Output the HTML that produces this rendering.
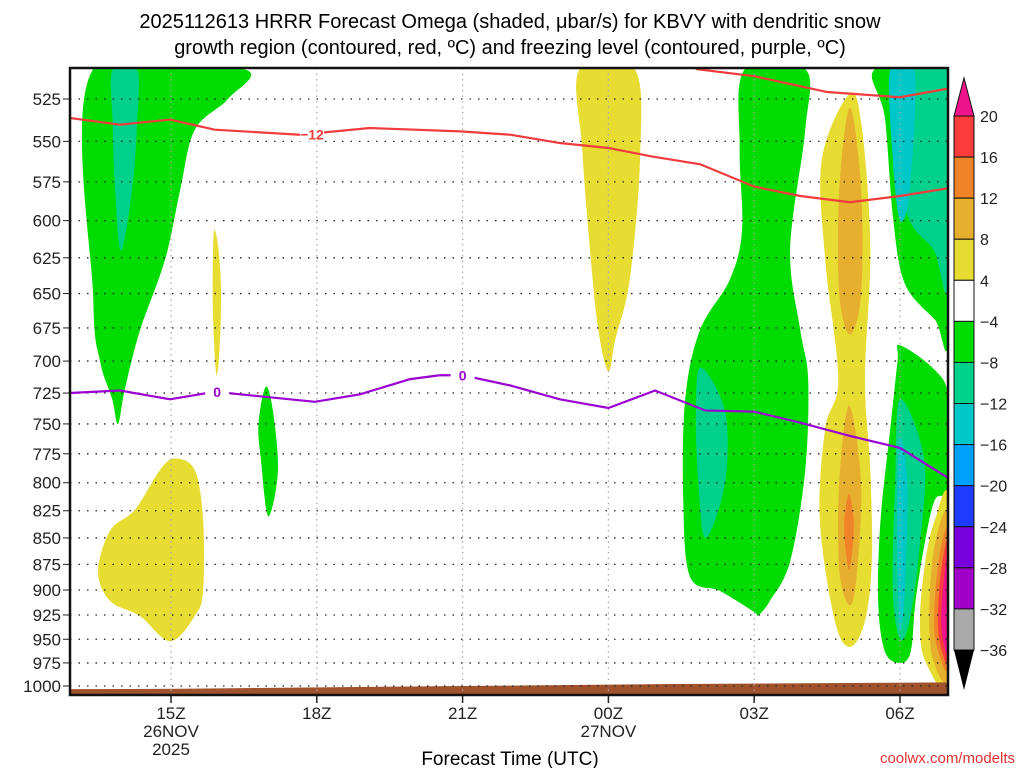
<!DOCTYPE html>
<html><head><meta charset="utf-8"><style>
body{margin:0;background:#fff;}
svg{display:block;font-family:"Liberation Sans","DejaVu Sans",sans-serif;}
</style></head><body>
<svg id="c" width="1024" height="768" viewBox="0 0 1024 768">
<defs><clipPath id="clip"><rect x="70" y="68" width="878" height="627"/></clipPath></defs>
<g id="fills"></g>
<g id="grid"></g>
<g id="lines"></g>
<g id="axes"></g>
<g id="cbar"></g>
<text x="510" y="28" font-size="20" text-anchor="middle">2025112613 HRRR Forecast Omega (shaded, μbar/s) for KBVY with dendritic snow</text>
<text x="510" y="54" font-size="20" text-anchor="middle">growth region (contoured, red, ºC) and freezing level (contoured, purple, ºC)</text>
<text x="510" y="765" font-size="19" text-anchor="middle">Forecast Time (UTC)</text>
<text x="1015" y="763" font-size="15" text-anchor="end" fill="#e03030">coolwx.com/modelts</text>
</svg>
<script>
const pLevels=[525,550,575,600,625,650,675,700,725,750,775,800,825,850,875,900,925,950,975,1000];
const timeHours=[2,5,8,11,14,17];
const timeLabels=["15Z","18Z","21Z","00Z","03Z","06Z"];
const dateLabels=[["26NOV","2025"],[],[],["27NOV"],[],[]];
const cbLabels=[20,16,12,8,4,-4,-8,-12,-16,-20,-24,-28,-32,-36];
const cbColors=["#fa3c3c","#f08228","#e6af2d","#e6dc32","#ffffff","#00dc00","#00d28c","#00c8c8","#00a0ff","#1e3cff","#7800dc","#a000c8","#aaaaaa"];
const G="#00dc00",T="#00d28c",C="#00c8c8",Y="#e6dc32",Gd="#e6af2d",O="#f08228",R="#fa3c3c",M="#f0148c";
const shapes=[
 [G,[[0.4,508],[3.48,508],[3.17,525],[2.49,543],[2.19,580],[1.88,626],[1.36,677],[1.05,722],[0.91,750],[0.79,730],[0.54,700],[0.4,654]]],
 [T,[[0.8,508],[1.3,508],[1.3,540],[1.2,580],[0.97,620],[0.85,580],[0.8,540]]],
 [Y,[[0.5,882],[0.75,843],[1.26,824],[1.77,789],[2.08,779],[2.49,789],[2.66,833],[2.66,901],[2.49,926],[1.98,952],[1.36,926],[0.75,911]]],
 [Y,[[2.88,608],[2.98,620],[3.03,650],[3.0,690],[2.93,710],[2.86,660]]],
 [G,[[3.95,720],[4.1,740],[4.2,790],[4.0,830],[3.85,780],[3.8,750]]],
 [Y,[[10.41,508],[11.54,508],[11.65,561],[11.44,640],[11.14,684],[11.0,708],[10.79,676],[10.62,619],[10.46,554]]],
 [G,[[13.81,508],[15.05,508],[15.05,543],[14.74,619],[14.95,677],[15.11,714],[15.05,789],[14.74,872],[14.32,911],[14.07,926],[14.0,922],[13.3,901],[12.68,887],[12.54,815],[12.58,730],[12.88,677],[13.5,640],[13.75,606],[13.7,554]]],
 [T,[[12.9,705],[13.4,740],[13.4,800],[13.0,850],[12.85,800],[12.8,740]]],
 [Y,[[15.97,522],[16.22,543],[16.39,619],[16.28,714],[16.39,789],[16.42,872],[16.28,931],[15.97,958],[15.66,931],[15.35,833],[15.46,754],[15.73,714],[15.46,626],[15.39,561]]],
 [Gd,[[15.97,530],[16.2,580],[16.2,650],[15.97,680],[15.75,650],[15.75,580]]],
 [Gd,[[15.95,735],[16.2,800],[16.1,890],[15.95,915],[15.75,880],[15.75,800]]],
 [O,[[15.95,810],[16.05,840],[15.95,880],[15.85,840]]],
 [G,[[16.49,508],[18,508],[18,680],[17.72,669],[17.1,643],[16.86,599],[16.69,536]]],
 [T,[[16.9,508],[18,508],[18,645],[17.7,620],[17.2,600],[16.9,560]]],
 [C,[[16.8,508],[17.3,508],[17.2,580],[17.0,600],[16.85,560]]],
 [G,[[17.0,688],[17.72,707],[18,730],[18,803],[17.72,815],[17.52,852],[17.32,911],[17.22,963],[17.0,975],[16.69,963],[16.55,911],[16.6,833],[16.8,754],[16.95,700]]],
 [T,[[17,730],[17.5,780],[17.4,860],[17.2,930],[17.0,950],[16.85,900],[16.9,800]]],
 [C,[[17.0,760],[17.15,800],[17.1,900],[17.0,940],[16.95,880],[16.95,800]]],
 [Y,[[18,815],[17.72,833],[17.52,872],[17.41,931],[17.52,973],[18,993]]],
 [Gd,[[18,830],[17.7,860],[17.6,930],[17.7,975],[18,985]]],
 [O,[[18,845],[17.8,870],[17.7,930],[17.8,965],[18,975]]],
 [R,[[18,855],[17.85,880],[17.78,930],[17.85,960],[18,968]]],
 [M,[[18,865],[17.9,890],[17.85,930],[17.9,955],[18,960]]]
];
const redHours=[-0.1,0.95,1.98,2.9,4.65,6.09,7.95,8.98,10,11,11.86,12.89,14,14.95,15.97,17,18];
const redP=[536,540,537,543,546,542,544,546,551,554,559,564,578,584,588,584,579];
const red2Hours=[12.8,14,15.5,17,18];
const red2P=[508,512,521,524,519];
const purpleHours=[-0.1,0.95,1.98,2.9,4.96,5.89,6.92,7.53,8,8.98,10,11,11.96,12.99,14,14.95,15.97,17,18];
const purpleP=[725,723,730,724,732,726,714,711,711,719,730,737,723,739,740,749,760,770,796];
const groundHours=[-0.1,2.2,4,8,12,15,18];
const groundP=[1003.5,1003,1002,1000,998,997,996];

(function(){
const X0=70,X1=948,Y0=68,Y1=695;
const xs=h=>171+(h-2)*48.6;
const ys=p=>686-911*Math.log(1000/p);
const NS="http://www.w3.org/2000/svg";
function mk(tag,attrs,parent){const e=document.createElementNS(NS,tag);for(const k in attrs)e.setAttribute(k,attrs[k]);parent.appendChild(e);return e;}
const fills=document.getElementById('fills'),grid=document.getElementById('grid'),lines=document.getElementById('lines'),axes=document.getElementById('axes'),cbar=document.getElementById('cbar');
const fg=mk('g',{'clip-path':'url(#clip)'},fills);
const lg=mk('g',{'clip-path':'url(#clip)'},lines);
shapes.forEach((s,i)=>{
 const pts=s[1].map(q=>[xs(q[0]),ys(q[1])]);
 let d='M'+pts[0].join(',');
 const n=pts.length;
 for(let j=0;j<n;j++){const p0=pts[(j-1+n)%n],p1=pts[j],p2=pts[(j+1)%n],p3=pts[(j+2)%n];
  const c1=[p1[0]+(p2[0]-p0[0])/6,p1[1]+(p2[1]-p0[1])/6],c2=[p2[0]-(p3[0]-p1[0])/6,p2[1]-(p3[1]-p1[1])/6];
  d+=' C'+c1.join(',')+' '+c2.join(',')+' '+p2.join(',');}
 const e=mk('path',{d:d+'Z',fill:s[0]},fg);
 
 
});
const gpts=groundHours.map((h,i)=>xs(h)+','+ys(groundP[i])).join(' ');
const gr=mk('polygon',{points:gpts+' '+xs(18)+','+Y1+' '+xs(-0.1)+','+Y1,fill:'#a0522d'},fg);


pLevels.forEach(p=>{
 const l=mk('line',{x1:X0,x2:X1,y1:ys(p),y2:ys(p),stroke:'#222','stroke-width':1.3,'stroke-dasharray':'1.5,7'},grid);
 
 
 const t=mk('text',{x:61,y:ys(p)+6,'font-size':17,'text-anchor':'end',fill:'#222'},axes);t.textContent=p;
 
 
 mk('line',{x1:63,x2:70,y1:ys(p),y2:ys(p),stroke:'#222'},axes);
});
timeHours.forEach((h,i)=>{
 const l=mk('line',{x1:xs(h),x2:xs(h),y1:Y0,y2:Y1,stroke:'#aaa','stroke-width':1.2,'stroke-dasharray':'1.5,4'},grid);
 
 
 mk('line',{x1:xs(h),x2:xs(h),y1:Y1,y2:Y1+8,stroke:'#222','stroke-width':1.5},axes);
 const t=mk('text',{x:xs(h),y:719,'font-size':17,'text-anchor':'middle',fill:'#222'},axes);t.textContent=timeLabels[i];
 
 
 dateLabels[i].forEach((s,k)=>{const d=mk('text',{x:xs(h),y:737+k*18,'font-size':17,'text-anchor':'middle',fill:'#222'},axes);d.textContent=s;
  
  });
});
function line(hs,ps,col,name){const e=mk('polyline',{points:hs.map((h,i)=>xs(h)+','+ys(ps[i])).join(' '),fill:'none',stroke:col,'stroke-width':2.2},lg);
 
 }
line(redHours,redP,'#f03c3c','contour-minus12');
line(red2Hours,red2P,'#f03c3c','contour-minus12-upper');
line(purpleHours,purpleP,'#9b00d2','freezing-level-0c');
function lab(h,p,txt,col,name){mk('rect',{x:xs(h)-12,y:ys(p)-7,width:24,height:14,fill:'#fff'},lines);
 const t=mk('text',{x:xs(h),y:ys(p)+5,'font-size':14,'font-weight':'bold','text-anchor':'middle',fill:col},lines);t.textContent=txt;
 
 }
lab(4.9,546,'−12','#f03c3c','label-minus12');
lab(2.95,724,'0','#9b00d2','label-zero-a');
lab(8.0,711,'0','#9b00d2','label-zero-b');
const fr=mk('rect',{x:X0,y:Y0,width:X1-X0,height:Y1-Y0,fill:'none',stroke:'#111','stroke-width':2.5},axes);


const cx=954,cw=20,cbTop=116,bh=534/13;
mk('polygon',{points:`${cx},${cbTop} ${cx+cw},${cbTop} ${cx+cw/2},${cbTop-38}`,fill:M,stroke:'#111'},cbar);
cbColors.forEach((c,i)=>{const r=mk('rect',{x:cx,y:cbTop+i*bh,width:cw,height:bh,fill:c,stroke:'#111','stroke-width':1},cbar);
 
 });
const bot=cbTop+cbColors.length*bh;
mk('polygon',{points:`${cx},${bot} ${cx+cw},${bot} ${cx+cw/2},${bot+40}`,fill:'#000'},cbar);
cbLabels.forEach((v,i)=>{const t=mk('text',{x:980,y:cbTop+i*bh+6,'font-size':16,fill:'#222'},cbar);t.textContent=v<0?'−'+(-v):v;
 
 });
})();
</script>
</body></html>
